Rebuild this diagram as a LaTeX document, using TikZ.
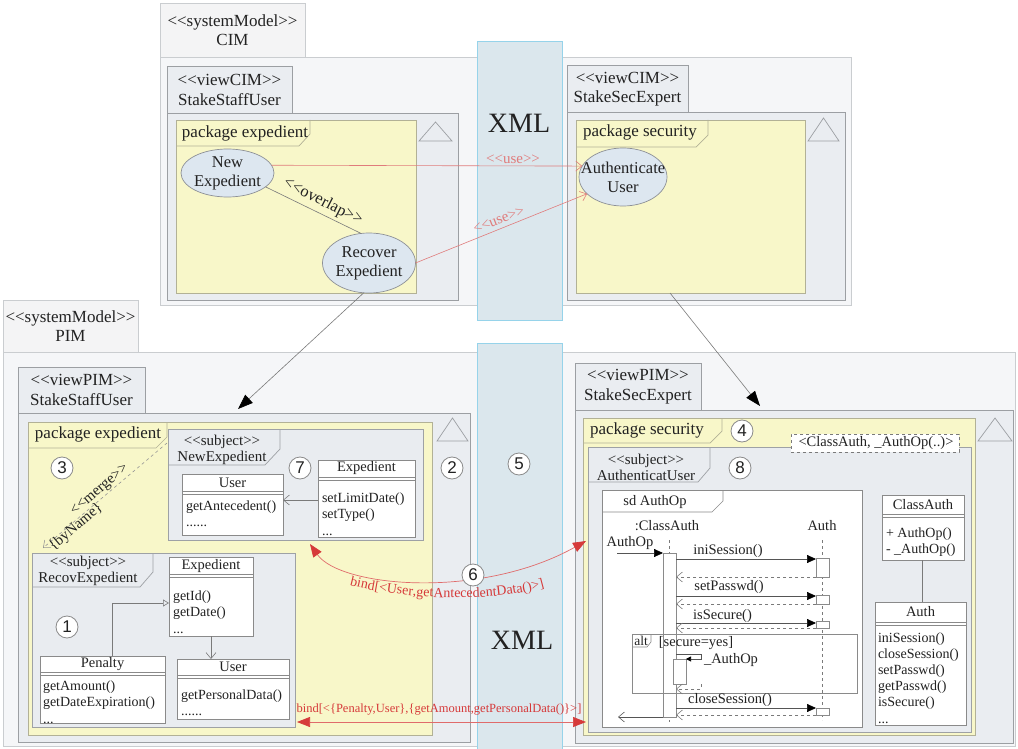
\documentclass[tikz,border=0pt]{standalone}
\usepackage{fontspec}
\setmainfont{Liberation Serif}
\newfontfamily\numfont{Liberation Sans}
\usetikzlibrary{fit,arrows.meta,decorations.text,shapes.geometric}
\definecolor{outerfill}{HTML}{F5F6F8}
\definecolor{outerline}{HTML}{CACDD0}
\definecolor{tabfill}{HTML}{F4F4F5}
\definecolor{viewfill}{HTML}{EAEDF1}
\definecolor{viewline}{HTML}{9C9FA3}
\definecolor{pkgfill}{HTML}{F8F7C9}
\definecolor{pkgline}{HTML}{B2B196}
\definecolor{subjfill}{HTML}{E9ECF0}
\definecolor{subjline}{HTML}{9EA1A5}
\definecolor{clsline}{HTML}{8A8A8A}
\definecolor{ellfill}{HTML}{DDE7F0}
\definecolor{ellline}{HTML}{8D9096}
\definecolor{xmlfill}{HTML}{DBE7ED}
\definecolor{xmlline}{HTML}{96D3EA}
\definecolor{usered}{HTML}{E07C7C}
\definecolor{bindred}{HTML}{D63A3A}
\definecolor{connline}{HTML}{7A7A7A}
\definecolor{msgline}{HTML}{555555}
\definecolor{numline}{HTML}{8A8A8A}
\definecolor{txt}{HTML}{222222}
\newcommand\stereo[1]{<{}<#1>{}>}
\begin{document}
\begin{tikzpicture}[x=1pt,y=-1pt,
 every node/.style={inner sep=0pt, outer sep=0pt, text=txt},
 fr/.style={draw=outerline, fill=outerfill, line width=0.8pt},
 tabg/.style={draw=outerline, fill=tabfill, line width=0.8pt},
 viewb/.style={draw=viewline, fill=viewfill, line width=0.7pt},
 pkg/.style={draw=pkgline, fill=pkgfill, line width=0.7pt},
 subj/.style={draw=subjline, fill=subjfill, line width=0.7pt},
 cls/.style={draw=clsline, fill=white, line width=0.7pt},
 clsl/.style={draw=clsline, line width=0.6pt},
 ell/.style={ellipse, draw=ellline, fill=ellfill, line width=0.7pt},
 xmlstrip/.style={draw=xmlline, fill=xmlfill, line width=0.7pt},
 lbl/.style={font=\fontsize{17}{19.5}\selectfont, align=center},
 subjt/.style={font=\fontsize{15}{16}\selectfont, align=center},
 cname/.style={font=\fontsize{14.5}{16}\selectfont},
 meth/.style={font=\fontsize{14}{16.5}\selectfont, align=left, anchor=base west},
 sdt/.style={font=\fontsize{14.5}{16}\selectfont},
 num/.style={circle, draw=numline, fill=white, line width=0.8pt, minimum size=22pt, font=\numfont\fontsize{17}{17}\selectfont},
 peak/.style={draw=viewline, line width=0.7pt},
 conn/.style={draw=connline, line width=0.6pt},
 usec/.style={draw=usered, line width=0.6pt, -{Straight Barb[length=6pt,width=10pt]}},
 bigarr/.style={draw=connline, line width=0.6pt, -{Triangle[length=15pt,width=11pt,color=black]}},
 bindc/.style={draw=bindred!75, line width=0.7pt, {Triangle[length=13pt,width=10pt,color=bindred]}-{Triangle[length=13pt,width=10pt,color=bindred]}},
 openarr/.style={-{Straight Barb[length=6pt,width=10pt]}},
 msg/.style={draw=msgline, line width=0.7pt, -{Triangle[length=9pt,width=8pt,color=black]}},
 ret/.style={draw=connline, dashed, line width=0.6pt, -{Straight Barb[length=6pt,width=10pt]}},
]
\useasboundingbox (0,0) rectangle (1018,749);
\fill[white] (0,0) rectangle (1018,749);

% ================= CIM =================
\node[tabg, fit={(160,3)(305,57)}] (cimtab) {};
\node[lbl] (cimtabt) at (232.5,30) {\stereo{systemModel}\\CIM};
\node[fr, fit={(160,57)(851,305)}] (cim) {};

% view CIM StakeStaffUser
\node[viewb, fit={(167,66)(292,113)}] (v1tab) {};
\node[lbl] (v1tabt) at (229.5,90) {\stereo{viewCIM}\\StakeStaffUser};
\node[viewb, fit={(167,113)(458,300)}] (v1) {};
\draw[peak] (419,141) -- (435.5,122) -- (452,141) -- cycle;
\node[pkg, fit={(176,120)(416,293)}] (p1) {};
\draw[draw=pkgline, line width=0.7pt] (176,146) -- (299,146) -- (310,134) -- (310,120);
\node[lbl] (p1t) at (245,133) {package expedient};
\node[ell, minimum width=93pt, minimum height=48pt] (newexp) at (227.5,173) {};
\node[lbl, font=\fontsize{16.5}{19}\selectfont] (newexpt) at (227.5,173) {New\\Expedient};
\node[ell, minimum width=93pt, minimum height=60pt] (recexp) at (369,263) {};
\node[lbl, font=\fontsize{16.5}{19}\selectfont] (recexpt) at (369,263) {Recover\\Expedient};

% view CIM StakeSecExpert
\node[viewb, fit={(567,65)(688,112)}] (v2tab) {};
\node[lbl] (v2tabt) at (627.5,89) {\stereo{viewCIM}\\StakeSecExpert};
\node[viewb, fit={(567,112)(845,300)}] (v2) {};
\draw[peak] (808,141) -- (823.5,118) -- (839,141) -- cycle;
\node[pkg, fit={(576,120)(805,293)}] (p2) {};
\draw[draw=pkgline, line width=0.7pt] (576,147) -- (696,147) -- (708,135) -- (708,120);
\node[lbl] (p2t) at (640,132) {package security};
\node[ell, minimum width=88pt, minimum height=58pt] (authu) at (623,177) {};
\node[lbl, font=\fontsize{16.5}{19}\selectfont] (authut) at (623,177) {Authenticate\\User};

% XML strip (top)
\node[xmlstrip, fit={(477,41)(562,320)}] (xml1) {};
\node[font=\fontsize{28}{28}\selectfont] (xml1t) at (519,123) {XML};

% CIM connectors
\draw[conn] (newexp.-20) -- (recexp.105);
\node[font=\fontsize{16.5}{16.5}\selectfont, rotate=-27] (ovl) at (323,202) {\stereo{overlap}};
\draw[usec] (newexp.10) -- (authu.165);
\node[font=\fontsize{15}{15}\selectfont, text=usered] (use1) at (513,159) {\stereo{use}};
\draw[usec] (recexp.0) -- (authu.205);
\node[font=\fontsize{15}{15}\selectfont, text=usered, rotate=21.4] (use2) at (499,220) {\stereo{use}};

% ================= PIM =================
\node[tabg, fit={(3,300)(138,352)}] (pimtab) {};
\node[lbl] (pimtabt) at (70.5,326) {\stereo{systemModel}\\PIM};
\node[fr, fit={(3,352)(1015,746)}] (pim) {};

% view PIM StakeStaffUser
\node[viewb, fit={(18,367)(145,413)}] (v3tab) {};
\node[lbl] (v3tabt) at (81.5,390) {\stereo{viewPIM}\\StakeStaffUser};
\node[viewb, fit={(18,413)(470,742)}] (v3) {};
\draw[peak] (437,441) -- (452.5,418) -- (468,441) -- cycle;
\node[pkg, fit={(28,422)(432,735)}] (p3) {};
\draw[draw=pkgline, line width=0.7pt] (28,448) -- (156,448) -- (167,437) -- (167,422);
\node[lbl] (p3t) at (98,434) {package expedient};
\node[num] (n3) at (62,468) {3};

% subject NewExpedient
\node[subj, fit={(168,429)(423,540)}] (s1) {};
\draw[draw=subjline, line width=0.7pt] (168,465) -- (265,465) -- (280,449) -- (280,429);
\node[subjt] (s1t) at (222,450) {\stereo{subject}\\NewExpedient};
\node[num] (n7) at (300,468) {7};
\node[num] (n2) at (452,468) {2};
% class User (A)
\node[cls, fit={(182,474)(283,535)}] (userA) {};
\draw[clsl] (182,491) -- (283,491) (182,494) -- (283,494);
\node[cname] (userAn) at (232.5,482.5) {User};
\node[meth] (userAm) at (186,526.5) {getAntecedent()\\......};
% class Expedient (B)
\node[cls, fit={(318,460)(415,537)}] (expB) {};
\draw[clsl] (318,477) -- (415,477) (318,480) -- (415,480);
\node[cname] (expBn) at (366.5,468.5) {Expedient};
\node[meth] (expBm) at (322,535) {setLimitDate()\\setType()\\...};
\draw[conn, openarr] (expB.west |- 0,500) -- (userA.east |- 0,500);

% subject RecovExpedient
\node[subj, fit={(32,553)(295,727)}] (s2) {};
\draw[draw=subjline, line width=0.7pt] (32,587) -- (140,587) -- (153,572) -- (153,553);
\node[subjt] (s2t) at (88,571) {\stereo{subject}\\RecovExpedient};
\node[num] (n1) at (67,627) {1};
% class Expedient (C)
\node[cls, fit={(169,557)(253,636)}] (expC) {};
\draw[clsl] (169,574) -- (253,574) (169,577) -- (253,577);
\node[cname] (expCn) at (211,566) {Expedient};
\node[meth] (expCm) at (173,633) {getId()\\getDate()\\...};
% class Penalty
\node[cls, fit={(40,656)(165,723)}] (pen) {};
\draw[clsl] (40,672) -- (165,672) (40,675) -- (165,675);
\node[cname] (penn) at (102.5,664) {Penalty};
\node[meth] (penm) at (43,723) {getAmount()\\getDateExpiration()\\...};
% class User (D)
\node[cls, fit={(177,659)(289,719)}] (userD) {};
\draw[clsl] (177,675) -- (289,675) (177,678) -- (289,678);
\node[cname] (userDn) at (233,667) {User};
\node[meth] (userDm) at (181,715.5) {getPersonalData()\\......};
\draw[conn, -{Triangle[open, length=6pt, width=7pt]}] (pen.north -| 0,0) ++(112,0) coordinate (genS) -- (112,603) -- (expC.west |- 0,603);
\draw[conn, openarr] (expC.south -| 211,0) -- (userD.north -| 211,0);

% merge
\coordinate (m1) at (167,443);
\coordinate (m2) at (43,548);
\draw[draw=connline!80, dashed, line width=0.6pt, openarr] (m1) -- (m2);
\node[font=\fontsize{15}{15}\selectfont, rotate=40.3] (mlab) at (100,490) {\stereo{merge}};
\node[font=\fontsize{15}{15}\selectfont, rotate=40.3] (blab) at (76,527) {\{byName\}};

% view PIM StakeSecExpert
\node[viewb, fit={(575,363)(701,410)}] (v4tab) {};
\node[lbl] (v4tabt) at (638,386.5) {\stereo{viewPIM}\\StakeSecExpert};
\node[viewb, fit={(575,410)(1013,743)}] (v4) {};
\draw[peak] (978,441) -- (995,418) -- (1012,441) -- cycle;
\node[pkg, fit={(583,418)(975,735)}] (p4) {};
\draw[draw=pkgline, line width=0.7pt] (583,443) -- (710,443) -- (722,431) -- (722,418);
\node[lbl] (p4t) at (647,430) {package security};
\node[num] (n4) at (742,431) {4};
\node[subj, fit={(588,447)(971,732)}] (s3) {};
\draw[draw=subjline, line width=0.7pt] (588,482) -- (698,482) -- (710,468) -- (710,447);
\node[subjt] (s3t) at (646,467) {\stereo{subject}\\AuthenticatUser};
\node[draw=connline, dashed, fill=white, line width=0.6pt, fit={(791,434)(959,452)}] (tpar) {};
\node[font=\fontsize{14.5}{14.5}\selectfont] (tpart) at (876,443) {<ClassAuth, \_AuthOp(..)>};
\node[num] (n8) at (740,468) {8};

% sd AuthOp
\node[cls, fit={(602,490)(862,727)}] (sd) {};
\draw[clsl] (602,512) -- (712,512) -- (723,501) -- (723,490);
\node[sdt] (sdtt) at (655,502) {sd AuthOp};
\node[sdt] (llA) at (667,526) {:ClassAuth};
\node[sdt] (llB) at (822,526) {Auth};
\draw[draw=connline, dashed, line width=0.6pt] (669,540) -- (669,722);
\draw[draw=connline, dashed, line width=0.6pt] (822.5,540) -- (822.5,720);
\node[cls, fit={(663,553)(676,717)}] (actA) {};
\node[cls, fit={(816,558)(829,577)}] (actB1) {};
\node[cls, fit={(816,595)(829,604)}] (actB2) {};
\node[cls, fit={(816,621)(829,628)}] (actB3) {};
\node[cls, fit={(816,708)(829,715)}] (actB4) {};
\node[sdt] (foundl) at (630,543) {AuthOp};
\coordinate (found) at (617,553);
\draw[msg] (found) -- (actA.west |- found);
\draw[msg] (actA.east |- 0,559) -- (actB1.west |- 0,559);
\node[sdt] (m1l) at (728,551) {iniSession()};
\draw[ret] (actB1.south west) -- (actA.east |- actB1.south west);
\draw[msg] (actA.east |- 0,596) -- (actB2.west |- 0,596);
\node[sdt] (m2l) at (729,587) {setPasswd()};
\draw[ret] (actB2.south west) -- (actA.east |- actB2.south west);
\draw[msg] (actA.east |- 0,623) -- (actB3.west |- 0,623);
\node[sdt] (m3l) at (722.5,616) {isSecure()};
\draw[ret] (actB3.south west) -- (actA.east |- actB3.south west);
% alt
\node[draw=clsline, line width=0.7pt, fit={(632,634)(857,693)}] (alt) {};
\draw[clsl] (632,647) -- (647,647) -- (651,642) -- (651,634);
\node[font=\fontsize{13.5}{13.5}\selectfont] (altt) at (641,640.5) {alt};
\node[sdt] (guard) at (696,643) {[secure=yes]};
\node[cls, fit={(673,659)(686,684)}] (actA2) {};
\draw[draw=msgline, line width=0.6pt, -{Triangle[length=5pt,width=5pt,color=black]}] (actA.east |- 0,654) -- (701,654) -- (701,659) -- (actA2.east |- 0,659);
\node[sdt] (selfl) at (731,660) {\_AuthOp};
\draw[ret] (701,684) -- (701,689) -- (actA.east |- 0,689);
\draw[msg] (actA.east |- 0,708) -- (actB4.west |- 0,708);
\node[sdt] (m4l) at (730,700) {closeSession()};
\draw[ret] (actB4.south west) -- (actA.east |- actB4.south west);
\coordinate (lost) at (618,717);
\draw[draw=msgline, line width=0.6pt, openarr] (actA.south west) -- (lost);

% class ClassAuth
\node[cls, fit={(882,495)(964,560)}] (cauth) {};
\draw[clsl] (882,514) -- (964,514) (882,517) -- (964,517);
\node[cname] (cauthn) at (923,505) {ClassAuth};
\node[meth] (cauthm) at (886,553.5) {+ AuthOp()\\- \_AuthOp()};
% class Auth
\node[cls, fit={(875,602)(966,725)}] (auth) {};
\draw[clsl] (875,622) -- (966,622) (875,625) -- (966,625);
\node[cname] (authn) at (920.5,612) {Auth};
\node[meth, font=\fontsize{14}{16.2}\selectfont] (authm) at (878,723) {iniSession()\\closeSession()\\setPasswd()\\getPasswd()\\isSecure()\\...};
\draw[conn] (cauth.south -| 922,0) -- (auth.north -| 922,0);

% XML strip (bottom)
\node[xmlstrip, fit={(477,343)(562,753)}] (xml2) {};
\node[font=\fontsize{28}{28}\selectfont] (xml2t) at (522,640) {XML};
\node[num] (n5) at (519,464) {5};

% CIM -> PIM arrows
\coordinate (a1e) at (238,409);
\draw[bigarr] (recexp.260) -- (a1e);
\coordinate (a2s) at (670,293);
\coordinate (a2e) at (760,406);
\draw[bigarr] (a2s) -- (a2e);

% bind connectors
\coordinate (b1s) at (310,544);
\coordinate (b1e) at (586,541);
\draw[bindc] (b1s) .. controls (340,587) and (480,600) .. (b1e);
\path[decorate, decoration={text along path, text align=center,
  text={|\fontsize{14}{14}\selectfont\color{bindred}|bind[<User,getAntecedentData()>]}}]
  (338,582) .. controls (400,601) and (500,604) .. (556,584);
\node[num] (n6) at (473,575) {6};
\coordinate (b2s) at (297,722);
\coordinate (b2e) at (586,722);
\draw[bindc] (b2s) -- (b2e);
\node[font=\fontsize{12.5}{12.5}\selectfont, text=bindred] (b2l) at (439,710) {bind[<\{Penalty,User\},\{getAmount,getPersonalData()\}>]};
\end{tikzpicture}
\end{document}
